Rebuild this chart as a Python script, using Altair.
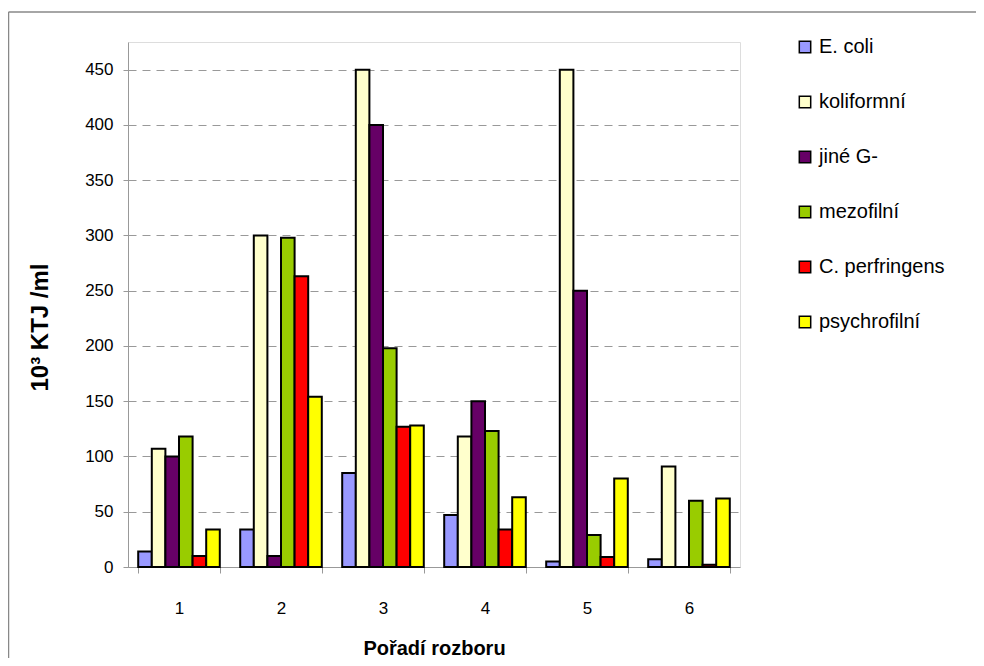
import altair as alt
import pandas as pd

groups = ["1", "2", "3", "4", "5", "6"]
series = ["E. coli", "koliformní", "jiné G-", "mezofilní", "C. perfringens", "psychrofilní"]
colors = ["#9999FF", "#FFFFCC", "#660066", "#99CC00", "#FF0000", "#FFFF00"]

e_coli = [14, 34, 85, 47, 5, 7]
koliformni = [107, 300, 450, 118, 450, 91]
jine_g = [100, 10, 400, 150, 250, 0]
mezofilni = [118, 298, 198, 123, 29, 60]
c_perfringens = [10, 263, 127, 34, 9, 2]
psychrofilni = [34, 154, 128, 63, 80, 62]

values = [e_coli, koliformni, jine_g, mezofilni, c_perfringens, psychrofilni]
rows = []
for s, vals in zip(series, values):
    for g, v in zip(groups, vals):
        rows.append({"rozbor": g, "serie": s, "hodnota": v})
df = pd.DataFrame(rows)
one = pd.DataFrame({"k": [0]})

FONT = "Liberation Sans"

bars = alt.Chart(df).mark_bar(stroke="black", strokeWidth=2).encode(
    x=alt.X("rozbor:N", sort=groups,
            scale=alt.Scale(paddingInner=0.2, paddingOuter=0.1),
            axis=alt.Axis(title="Pořadí rozboru", labelAngle=0, tickBand="extent",
                          domainColor="#999999", tickColor="#999999", tickSize=6,
                          labelFontSize=17, labelPadding=27, labelFont=FONT, labelColor="black",
                          titleFontSize=20, titleFont=FONT, titleFontWeight="bold",
                          titlePadding=22, titleColor="black")),
    xOffset=alt.XOffset("serie:N", sort=series, scale=alt.Scale(paddingInner=0, paddingOuter=0)),
    y=alt.Y("hodnota:Q", scale=alt.Scale(domain=[0, 475], nice=False),
            axis=alt.Axis(title="10³ KTJ /ml", values=list(range(0, 451, 50)),
                          grid=True, gridDash=[8, 6], gridColor="#999999", gridWidth=1,
                          domainColor="#999999", tickColor="#999999", tickSize=5,
                          labelFontSize=17, labelPadding=10, labelFont=FONT, labelColor="black",
                          titleFontSize=24, titleFont=FONT, titleFontWeight="bold",
                          titlePadding=32, titleY=285, titleColor="black")),
    color=alt.Color("serie:N", sort=series,
                    scale=alt.Scale(domain=series, range=colors),
                    legend=alt.Legend(title=None, orient="none", legendX=667, legendY=-5,
                                      symbolType="square", symbolSize=130,
                                      symbolStrokeColor="black", symbolStrokeWidth=1.5,
                                      labelFontSize=20, labelFont=FONT, labelColor="black",
                                      rowPadding=35, labelOffset=4)),
)

border_left = alt.Chart(one).mark_rule(color="#888888", strokeWidth=1.5).encode(
    x=alt.value(-119.5), y=alt.value(-30), y2=alt.value(700))
border_top = alt.Chart(one).mark_rule(color="#888888", strokeWidth=1.5).encode(
    x=alt.value(-119.5), x2=alt.value(848), y=alt.value(-30))

chart = alt.layer(bars, border_left, border_top).properties(
    width=612, height=525,
    autosize=alt.AutoSizeParams(type="none"),
    padding={"left": 120, "top": 34, "right": 236, "bottom": 91},
).configure_view(stroke=None).configure(font=FONT)

chart.save("out.html", embed_options={"renderer": "svg", "actions": False})
